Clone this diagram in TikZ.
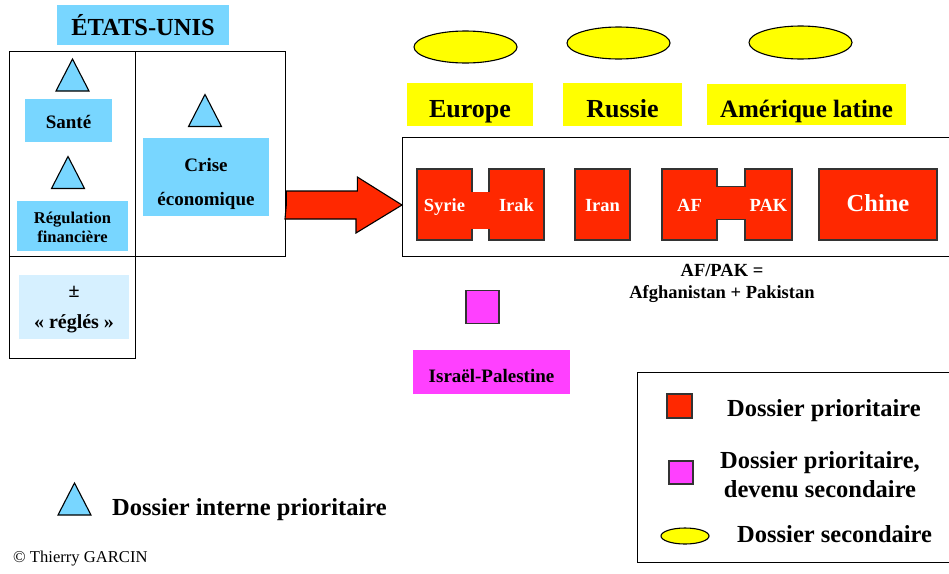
\documentclass[tikz,border=0pt]{standalone}
\usepackage{fontspec}
\setmainfont{Liberation Serif}
\usetikzlibrary{shapes.geometric}
\definecolor{usblue}{RGB}{120, 214, 255}
\definecolor{uspale}{RGB}{214, 240, 255}
\definecolor{prioRed}{RGB}{255, 40, 0}
\definecolor{prioPink}{RGB}{255, 64, 255}
\definecolor{secYellow}{RGB}{255, 255, 0}

\begin{document}
\begin{tikzpicture}[x=1pt, y=-1pt,
    cadre/.style={draw, line width=1.3pt, anchor=north west, inner sep=0},
    bleu/.style={fill=usblue, inner sep=0, align=center, text depth=0pt, font=\bfseries\fontsize{19}{22}\selectfont},
    jaune/.style={fill=secYellow, inner sep=0, minimum height=43, text height=25pt, text depth=0pt, font=\bfseries\fontsize{26}{30}\selectfont},
    ovale/.style={draw, ellipse, fill=secYellow, line width=1.1pt, inner sep=0},
    pays/.style={draw=black!80, fill=prioRed, text=white, line width=1.1pt, inner sep=0, minimum height=71, text height=13pt, text depth=0pt, font=\bfseries\fontsize{18.5}{22}\selectfont},
    rose/.style={draw=black!80, fill=prioPink, line width=1.1pt, inner sep=0},
    legende/.style={inner sep=0, font=\bfseries\fontsize{24.5}{29}\selectfont},
    tri/.style={draw, fill=usblue, line width=1.1pt},
    triangle/.pic={\draw[tri] (-16.5,16) -- (0,-16) -- (16.5,16) -- cycle;}
]
    \clip (0,0) rectangle (949,573);

    % Etats-Unis
    \node[bleu, minimum width=172, minimum height=40, text height=21pt, font=\bfseries\fontsize{24.5}{28}\selectfont] (usa) at (143,24.5) {ÉTATS-UNIS};
    \node[cadre, minimum width=276, minimum height=205] (usframe) at (9,51) {};
    \node[cadre, minimum width=126, minimum height=307] (colonne) at (9,51) {};

    \pic at (72.5,75) {triangle};
    \node[bleu, minimum width=87, minimum height=43, text height=15pt] (sante) at (68.5,120.5) {Santé};
    \pic at (68,172.5) {triangle};
    \node[bleu, minimum width=111, minimum height=50, text height=32pt, font=\bfseries\fontsize{16.5}{19}\selectfont] (regul) at (72.5,226) {Régulation\\financière};
    \node[bleu, fill=uspale, minimum width=110, minimum height=64, text height=42pt, font=\bfseries\fontsize{20}{31}\selectfont] (regles) at (74,307) {±\\«~réglés~»};

    \pic at (205,110.5) {triangle};
    \node[bleu, minimum width=126, minimum height=78, text height=56pt, font=\bfseries\fontsize{19}{34}\selectfont] (crise) at (206,177) {Crise\\économique};

    % Dossiers secondaires
    \node[ovale, minimum width=103, minimum height=32] (ovEurope) at (465.5,47) {};
    \node[ovale, minimum width=103, minimum height=32] (ovRussie) at (618.5,43) {};
    \node[ovale, minimum width=103, minimum height=33] (ovAmerique) at (800.5,42.5) {};
    \node[jaune, minimum width=126] (europe) at (470,104.5) {Europe};
    \node[jaune, minimum width=119] (russie) at (622.5,104.5) {Russie};
    \node[jaune, minimum width=199, minimum height=41, font=\bfseries\fontsize{25}{30}\selectfont] (amerique) at (806.5,104.5) {Amérique latine};

    % Dossiers prioritaires
    \node[cadre, minimum width=560, minimum height=119] (monde) at (402,137) {};
    \node[pays, minimum width=55] (syrie) at (444.5,204.5) {Syrie};
    \node[pays, minimum width=55] (irak) at (516.5,204.5) {Irak};
    \node[pays, minimum width=55] (iran) at (602.5,204.5) {Iran};
    \node[pays, minimum width=55] (af) at (689.5,204.5) {AF};
    \node[pays, minimum width=47] (pak) at (768.5,204.5) {PAK};
    \node[pays, minimum width=118, font=\bfseries\fontsize{24.5}{28}\selectfont] (chine) at (878,204.5) {Chine};
    % liens entre dossiers
    \draw[prioRed, line width=37pt] ([xshift=-1.5pt, yshift=-6pt]syrie.east) -- ([xshift=1.5pt, yshift=-6pt]irak.west);
    \draw[black!80, line width=34pt] ([yshift=1.5pt]af.east) -- ([yshift=1.5pt]pak.west);
    \draw[prioRed, line width=32pt] ([xshift=-1.5pt, yshift=1.5pt]af.east) -- ([xshift=1.5pt, yshift=1.5pt]pak.west);
    \node[anchor=base, align=center, inner sep=0, font=\bfseries\fontsize{18.5}{22}\selectfont] (afpak) at (722,298) {AF/PAK =\\Afghanistan + Pakistan};

    % Fleche
    \coordinate (flecheA) at (usframe.east |- 0,205);
    \coordinate (flecheB) at (monde.west |- 0,205);
    \draw[fill=prioRed, line width=1.1pt] (flecheA) -- ++(0,-14) -- ++(71,0) -- ++(0,-14) -- (flecheB)
        -- ++(-46,28) -- ++(0,-14) -- ++(-71,0) -- cycle;

    % Israel-Palestine
    \node[rose, minimum size=33] (carreIsrael) at (482.5,307) {};
    \node[rose, draw=none, minimum width=157, minimum height=44, text height=20pt, text depth=0pt, font=\bfseries\fontsize{19}{22}\selectfont] (israel) at (491.5,372) {Israël-Palestine};

    % Legende
    \node[cadre, minimum width=330, minimum height=190] (cadreLegende) at (637,372) {};
    \node[pays, minimum width=25, minimum height=24] (legRouge) at (679.5,406) {};
    \node[legende, anchor=base west] (txtRouge) at (727,416) {Dossier prioritaire};
    \node[rose, minimum width=24, minimum height=23] (legRose) at (681,472.5) {};
    \node[legende, anchor=base, align=center] (txtRose) at (820,497) {Dossier prioritaire,\\devenu secondaire};
    \node[ovale, minimum width=48, minimum height=16] (legJaune) at (685,536) {};
    \node[legende, anchor=base west] (txtJaune) at (737,542) {Dossier secondaire};

    \pic at (74.5,499) {triangle};
    \node[legende, anchor=base west] (txtTri) at (112,515) {Dossier interne prioritaire};
    \node[anchor=base west, inner sep=0, font=\fontsize{16.6}{20}\selectfont] (copyright) at (13,562) {© Thierry GARCIN};
\end{tikzpicture}
\end{document}
